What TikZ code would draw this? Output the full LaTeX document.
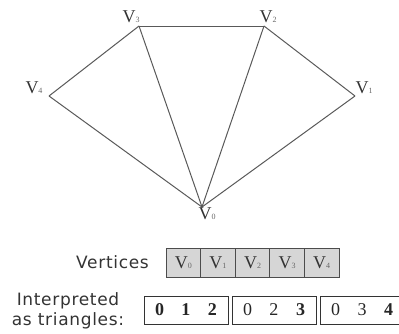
\documentclass[tikz,border=0pt]{standalone}
\usepackage{fontspec}
\setmainfont{Liberation Serif}
\newfontfamily\capfont[LetterSpace=4]{DejaVu Sans}
\usetikzlibrary{positioning}

% vertex name with a small subscript on the baseline
\newcommand\vname[1]{V{\fontsize{8}{8}\selectfont\color{black!60}#1}}

\begin{document}
\begin{tikzpicture}[
      x=1pt, y=-1pt,
      edge/.style={draw=black!65, line width=1pt},
      vlabel/.style={font=\fontsize{18}{18}\selectfont, text=black!80, inner sep=0pt},
      cell/.style={draw=black!70, fill=black!16, line width=0.9pt,
        minimum width=34.6pt, minimum height=29pt, inner sep=0pt, outer sep=0pt,
        font=\fontsize{18}{18}\selectfont, text=black!80},
      tribox/.style={draw=black!80, line width=1pt, minimum width=84pt,
        minimum height=28pt, inner sep=0pt, outer sep=0pt,
        font=\fontsize{18}{18}\selectfont, text=black!85},
      caption/.style={font=\capfont\fontsize{17}{19.5}\selectfont, text=black!80,
        inner sep=0pt, align=center}
    ]
    \useasboundingbox (0,0) rectangle (399,333);

    % fan of triangles
    \coordinate (v0) at (202,207);
    \coordinate (v1) at (355,96);
    \coordinate (v2) at (264,26);
    \coordinate (v3) at (139,26);
    \coordinate (v4) at (49,96);

    \draw[edge] (v4) -- (v3);
    \draw[edge] (v3) -- (v2);
    \draw[edge] (v2) -- (v1);
    \draw[edge] (v1) -- (v0);
    \draw[edge] (v0) -- (v4);
    \draw[edge] (v3) -- (v0);
    \draw[edge] (v2) -- (v0);

    \node[vlabel, anchor=base] (l0) at (207,219) {\vname{0}};
    \node[vlabel, anchor=base] (l1) at (364,93) {\vname{1}};
    \node[vlabel, anchor=base] (l2) at (268,22) {\vname{2}};
    \node[vlabel, anchor=base] (l3) at (131,22) {\vname{3}};
    \node[vlabel, anchor=base] (l4) at (34,93) {\vname{4}};

    % vertex buffer
    \node[cell] (c0) at (183.3,262.5) {\vname{0}};
    \foreach \i [remember=\i as \prev (initially 0)] in {1,...,4}
      \node[cell, right=0pt of c\prev] (c\i) {\vname{\i}};
    \node[caption, left=17pt of c0] (vcap) {Vertices};

    % index triples
    \node[tribox] (t1) at (186,310)
      {\textbf{0}\hspace{17.5pt}\textbf{1}\hspace{17.5pt}\textbf{2}};
    \node[tribox, right=4pt of t1] (t2)
      {0\hspace{17.5pt}2\hspace{17.5pt}\textbf{3}};
    \node[tribox, right=4pt of t2] (t3)
      {0\hspace{17.5pt}3\hspace{17.5pt}\textbf{4}};
    \node[caption] (tcap) at (68,311) {Interpreted\\as triangles:};
  \end{tikzpicture}
\end{document}
